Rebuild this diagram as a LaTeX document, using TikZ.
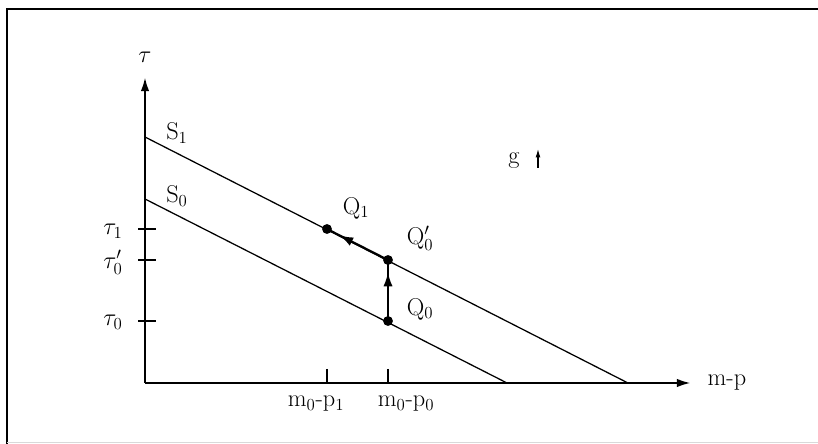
\documentclass[tikz,border=0pt]{standalone}
\usetikzlibrary{arrows.meta,decorations.markings}
\begin{document}
\begin{tikzpicture}[x=0.025cm,y=-0.025cm,
  axis/.style={line width=1.7pt,-{Latex[length=10pt,width=6pt]}},
  sline/.style={line width=0.9pt},
  move/.style={line width=1.5pt,postaction={decorate},
    decoration={markings,mark=at position 0.8 with {\arrow{Latex[length=10pt,width=6.5pt]}}}},
  dot/.style={circle,fill=black,inner sep=0pt,minimum size=7pt},
  lbl/.style={font=\fontsize{17.28}{20}\selectfont,inner sep=1pt},
  tick/.style={line width=1.3pt}]
\useasboundingbox (0,0) rectangle (818,444);
% frame
\draw[line width=1.2pt] (818,9) -- (7,9) -- (7,444);
\draw[line width=0.4pt,black!15] (7,442) -- (818,442);
% axes
\coordinate (O) at (145,383);
\coordinate (Ytop) at (145,77);
\coordinate (Xend) at (691,383);
\draw[axis] (O) -- (Ytop);
\draw[axis] (O) -- (Xend);
\node[lbl] (tau) at (145,57) {$\tau$};
\node[lbl,anchor=west] (mp) at (706,383) {m-p};
% schedules
\coordinate (S1a) at (145,137);
\coordinate (S1b) at (628,383);
\coordinate (S0a) at (145,199);
\coordinate (S0b) at (507,383);
\draw[sline] (S1a) -- (S1b);
\draw[sline] (S0a) -- (S0b);
\node[lbl] (S1) at (177,133) {S$_1$};
\node[lbl] (S0) at (177,196) {S$_0$};
% points
\node[dot] (Q1) at (327,229) {};
\node[dot] (Q0p) at (388,260) {};
\node[dot] (Q0) at (388,321) {};
\draw[move] (Q0.center) -- (Q0p.center);
\draw[move] (Q0p.center) -- (Q1.center);
\node[lbl] (Q1l) at (356,208) {Q$_1$};
\node[lbl] (Q0pl) at (420,238) {Q$'_0$};
\node[lbl] (Q0l) at (420,309) {Q$_0$};
% y ticks
\coordinate (t1a) at (138,229); \coordinate (t1b) at (156,229);
\coordinate (t0pa) at (138,260); \coordinate (t0pb) at (156,260);
\coordinate (t0a) at (138,321); \coordinate (t0b) at (156,321);
\draw[tick] (t1a) -- (t1b);
\draw[tick] (t0pa) -- (t0pb);
\draw[tick] (t0a) -- (t0b);
\node[lbl] (tau1) at (113,231) {$\tau_1$};
\node[lbl] (tau0p) at (113,262) {$\tau'_0$};
\node[lbl] (tau0) at (113,322) {$\tau_0$};
% x ticks
\coordinate (x1a) at (327,369); \coordinate (x1b) at (327,383);
\coordinate (x0a) at (388,369); \coordinate (x0b) at (388,383);
\draw[tick] (x1a) -- (x1b);
\draw[tick] (x0a) -- (x0b);
\node[lbl] (m1) at (316,404) {m$_0$-p$_1$};
\node[lbl] (m0) at (406,404) {m$_0$-p$_0$};
% g up
\node[lbl] (g) at (514,161) {g};
\coordinate (ga) at (538,168);
\coordinate (gb) at (538,149);
\draw[line width=0.8pt,-{Latex[length=6pt,width=3.5pt]}] (ga) -- (gb);
\end{tikzpicture}
\end{document}
